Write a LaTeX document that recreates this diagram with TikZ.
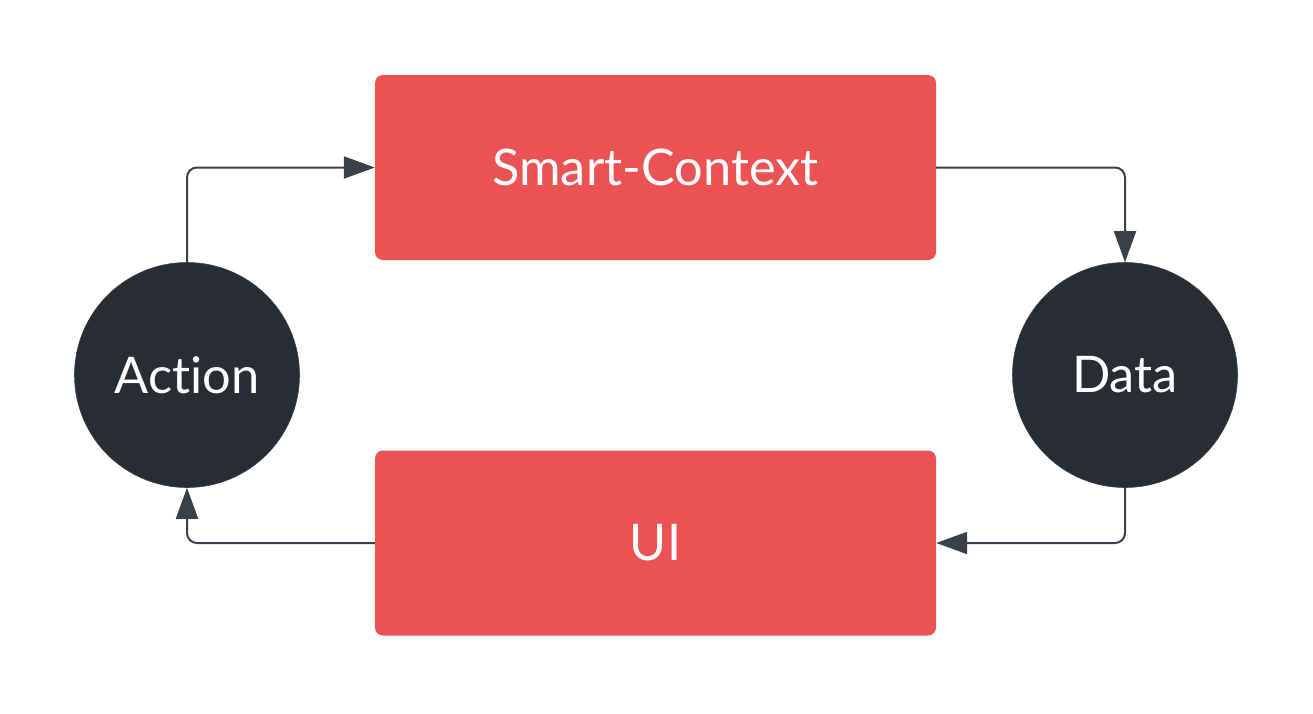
\documentclass[tikz,border=0pt]{standalone}
\usepackage{fontspec}
\setmainfont{Lato}[Ligatures={NoCommon,NoRare}]
\usetikzlibrary{arrows.meta}
\definecolor{boxred}{HTML}{EB5254}
\definecolor{darkfill}{HTML}{282C33}
\definecolor{linecol}{HTML}{3A404A}
\tikzset{
  box/.style={fill=boxred, rounded corners=8pt, minimum width=561pt, minimum height=185pt, inner sep=0pt, text=white, font=\fontsize{50.5}{60}\selectfont},
  circ/.style={circle, fill=darkfill, draw=linecol, line width=0.6pt, minimum size=225pt, inner sep=0pt, text=white, font=\fontsize{50.5}{60}\selectfont},
  conn/.style={draw=linecol, line width=2pt, rounded corners=10pt, -{Triangle[length=31pt,width=22pt]}, color=linecol}
}
\begin{document}
\begin{tikzpicture}[x=1pt,y=-1pt]
\useasboundingbox (0,0) rectangle (1313,713);
\node[box] (sc) at (655.5,167.5) {Smart-Context};
\node[box] (ui) at (655.5,543) {UI};
\node[circ] (act) at (187,375) {Action};
\node[circ] (dat) at (1125,375) {Data};
\draw[conn] (act.north) |- (sc.west);
\draw[conn] (sc.east) -| (dat.north);
\draw[conn] (dat.south) |- (ui.east);
\draw[conn] (ui.west) -| (act.south);
\end{tikzpicture}
\end{document}
